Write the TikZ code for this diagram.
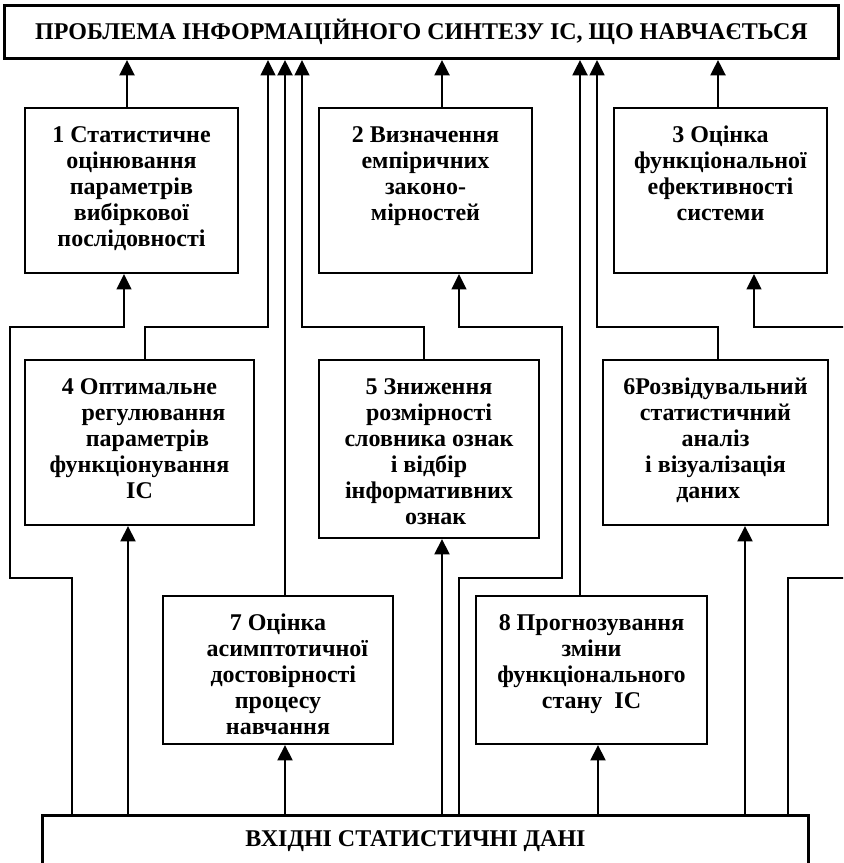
\documentclass[tikz,border=0pt]{standalone}
\usepackage{fontspec}
\setmainfont{Liberation Serif}
\usetikzlibrary{arrows.meta}
% text block of fixed size, set from the top
\newcommand\blocktext[3]{\parbox[t][#2][t]{#1}{\centering\vspace*{12.25pt}\strut #3}}
\begin{document}
\begin{tikzpicture}[x=0.75pt,y=-0.75pt,
  frame/.style={draw, line width=1.5pt, inner sep=0pt, anchor=north west,
    font=\bfseries\fontsize{18pt}{19.5pt}\selectfont},
  wide/.style={draw, line width=2.2pt, inner sep=0pt, anchor=north west,
    font=\bfseries\fontsize{18pt}{20pt}\selectfont},
  tip/.style={-{Triangle[length=11.5pt,width=11pt]}},
  up/.style={line width=2.2pt, tip},
  route/.style={line width=1.6pt, tip}]
\useasboundingbox (0,0) rectangle (843,863);
\clip (0,0) rectangle (843,863);

% goal and source
\node[wide, minimum width=625.5pt, minimum height=39.75pt] (T) at (3,4)
  {ПРОБЛЕМА ІНФОРМАЦІЙНОГО СИНТЕЗУ ІС, ЩО НАВЧАЄТЬСЯ};
\node[wide] (I) at (41,814)
  {\parbox[t][70pt][t]{574.5pt}{\centering\vspace*{9.2pt}\strut ВХІДНІ СТАТИСТИЧНІ ДАНІ\hspace*{15pt}}};

% upper row
\node[frame] (b1) at (24,107) {\blocktext{159.75pt}{123.75pt}{1 Статистичне\\оцінювання\\параметрів\\вибіркової\\послідовності}};
\node[frame] (b2) at (318,107) {\blocktext{159.75pt}{123.75pt}{2 Визначення\\емпіричних\\законо-\\мірностей}};
\node[frame] (b3) at (613,107) {\blocktext{159.75pt}{123.75pt}{3 Оцінка\\функціональної\\ефективності\\системи}};

% middle row
\node[frame] (b4) at (24,359) {\blocktext{171.75pt}{123.75pt}{4 Оптимальне\\\hspace*{21pt}регулювання\\\hspace*{12pt}параметрів\\функціонування\\ІС}};
\node[frame] (b5) at (318,359) {\blocktext{165pt}{133.5pt}{5 Зниження\hspace*{18pt}\\розмірності\hspace*{6pt}\\словника ознак\\і відбір\\інформативних\\\hspace*{10pt}ознак}};
\node[frame] (b6) at (602,359) {\blocktext{168.75pt}{123.75pt}{6Розвідувальний\\статистичний\\аналіз\\і візуалізація\\даних\hspace*{11pt}}};

% lower row
\node[frame] (b7) at (162,595) {\blocktext{172.5pt}{111pt}{7 Оцінка\hspace*{12pt}\\\hspace*{14pt}асимптотичної\\\hspace*{8pt}достовірності\\процесу\\навчання}};
\node[frame] (b8) at (475,595) {\blocktext{173.25pt}{111pt}{8 Прогнозування\\зміни\\функціонального\\стану\ \ ІС}};

% levels and columns of the connectors
\coordinate (hu) at (0,327);
\coordinate (hl) at (0,578);
\coordinate (xa) at (10,0);
\coordinate (xb) at (72,0);
\coordinate (xc) at (124,0);
\coordinate (xd) at (127,0);
\coordinate (xe) at (128,0);
\coordinate (xf) at (145,0);
\coordinate (xg) at (268,0);
\coordinate (xh) at (285,0);
\coordinate (xi) at (302,0);
\coordinate (xj) at (424,0);
\coordinate (xk) at (442,0);
\coordinate (xl) at (459,0);
\coordinate (xm) at (562,0);
\coordinate (xn) at (580,0);
\coordinate (xo) at (597,0);
\coordinate (xp) at (598,0);
\coordinate (xq) at (718,0);
\coordinate (xr) at (745,0);
\coordinate (xs) at (754,0);
\coordinate (xt) at (788,0);
\coordinate (xu) at (880,0);

% results into the goal
\draw[up] (b1.north -| xd) -- (T.south -| xd);
\draw[up] (b2.north -| xk) -- (T.south -| xk);
\draw[up] (b3.north -| xq) -- (T.south -| xq);
\draw[route] (b4.north -| xf) |- (hu -| xg) -- (T.south -| xg);
\draw[up] (b7.north -| xh) -- (T.south -| xh);
\draw[route] (b5.north -| xj) |- (hu -| xi) -- (T.south -| xi);
\draw[up] (b8.north -| xn) -- (T.south -| xn);
\draw[route] (b6.north -| xq) |- (hu -| xo) -- (T.south -| xo);

% data into the blocks
\draw[route] (I.north -| xb) |- (hl -| xa) |- (hu -| xc) -- (b1.south -| xc);
\draw[up] (I.north -| xe) -- (b4.south -| xe);
\draw[up] (I.north -| xh) -- (b7.south -| xh);
\draw[up] (I.north -| xk) -- (b5.south -| xk);
\draw[route] (I.north -| xl) |- (hl -| xm) |- (hu -| xl) -- (b2.south -| xl);
\draw[up] (I.north -| xp) -- (b8.south -| xp);
\draw[up] (I.north -| xr) -- (b6.south -| xr);
\draw[route] (I.north -| xt) |- (hl -| xu) |- (hu -| xs) -- (b3.south -| xs);
\end{tikzpicture}
\end{document}
